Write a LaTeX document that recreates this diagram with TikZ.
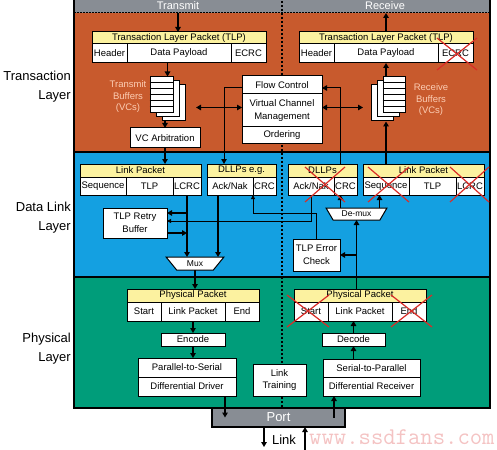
\documentclass[tikz,border=0pt]{standalone}
\usepackage{fontspec}
\setmainfont{Liberation Sans}
\usepackage{tikz}
\usetikzlibrary{positioning,arrows.meta,shapes.geometric}

\definecolor{txorange}{RGB}{200,90,45}
\definecolor{dlblue}{RGB}{20,160,225}
\definecolor{phgreen}{RGB}{0,157,122}
\definecolor{bargray}{RGB}{136,141,148}
\definecolor{pktyellow}{RGB}{252,242,160}
\definecolor{buflabel}{RGB}{252,205,180}
\definecolor{crossred}{RGB}{218,45,40}
\definecolor{markpink}{RGB}{240,175,175}

% centre x, centre y, half width, half height
\newcommand{\redcross}[4]{%
  \draw[redx] (#1-#3,#2-#4) -- (#1+#3,#2+#4) (#1-#3,#2+#4) -- (#1+#3,#2-#4);}

\begin{document}
\begin{tikzpicture}[x=1pt, y=-1pt,
    >={Triangle[length=5pt,width=5.5pt]},
    cellbox/.style={draw=black, line width=1pt, fill=white, inner sep=0pt, outer sep=0pt,
        minimum height=19pt, align=center, font=\fontsize{9.5}{12.5}\selectfont},
    hdrbox/.style={cellbox, fill=pktyellow, minimum height=12pt},
    sheet/.style={draw=black, line width=1pt, fill=white, minimum width=23pt,
        minimum height=36pt, inner sep=0pt},
    muxbox/.style={trapezium, shape border rotate=180, trapezium stretches=true,
        draw=black, line width=1pt, fill=white, inner sep=0pt, outer sep=0pt,
        font=\fontsize{8.5}{10}\selectfont},
    portbox/.style={draw=black, line width=1.5pt, fill=bargray, text=white, inner sep=0pt,
        outer sep=0pt, minimum width=133pt, minimum height=19pt, font=\fontsize{13}{13}\selectfont},
    barlabel/.style={text=white, inner sep=0pt, font=\fontsize{11}{11}\selectfont},
    layerlbl/.style={anchor=east, align=right, inner sep=0pt, font=\fontsize{13}{19}\selectfont},
    buflbl/.style={text=buflabel, align=center, inner sep=0pt, font=\fontsize{9.5}{11.5}\selectfont},
    flow/.style={->, line width=1.6pt},
    ctrl/.style={->, line width=1pt},
    thinflow/.style={->, line width=0.8pt, >={Triangle[length=4pt,width=4pt]}},
    redx/.style={crossred, line width=1.2pt},
    watermark/.style={text=markpink, text opacity=0.75, inner sep=0pt,
        font=\fontsize{24}{24}\selectfont\ttfamily}
    ]
    \useasboundingbox (0,0) rectangle (497,449);

    %Layers
    \fill[bargray] (74,-3) rectangle (490,13);
    \fill[txorange] (74,13) rectangle (490,152);
    \fill[dlblue] (74,152) rectangle (490,277);
    \fill[phgreen] (74,277) rectangle (490,408);
    \draw[line width=1.5pt] (74,-3) rectangle (490,408);
    \draw[line width=1.5pt] (74,152) -- (490,152) (74,277) -- (490,277);
    \draw[line width=1pt, dash pattern=on 2pt off 1pt] (74,13) -- (490,13);
    \draw[line width=1.6pt, dash pattern=on 1.6pt off 2.4pt] (282,-3) -- (282,408);

    \node[barlabel] (txlabel) at (178,6) {Transmit};
    \node[barlabel] (rxlabel) at (385,6) {Receive};
    \coordinate (txbarpt) at (178,13);
    \coordinate (rxbarpt) at (386,13);

    \node[layerlbl] (tllbl) at (71,86.5) {Transaction\\Layer};
    \node[layerlbl] (dllbl) at (71,217.5) {Data Link\\Layer};
    \node[layerlbl] (phlbl) at (71,349) {Physical\\Layer};

    %Transaction layer
    \node[hdrbox, minimum width=174pt, anchor=north west]
        (txtlp) at (92,32) {Transaction Layer Packet (TLP)};
    \node[cellbox, minimum width=35pt, anchor=north west]
        (txhead) at (txtlp.south west) {Header};
    \node[cellbox, minimum width=104pt, right=0pt of txhead] (txdata) {Data Payload};
    \node[cellbox, minimum width=35pt, right=0pt of txdata] (txecrc) {ECRC};

    \node[hdrbox, minimum width=174pt, anchor=north west]
        (rxtlp) at (299,32) {Transaction Layer Packet (TLP)};
    \node[cellbox, minimum width=35pt, anchor=north west]
        (rxhead) at (rxtlp.south west) {Header};
    \node[cellbox, minimum width=104pt, right=0pt of rxhead] (rxdata) {Data Payload};
    \node[cellbox, minimum width=35pt, right=0pt of rxdata] (rxecrc) {ECRC};

    \foreach \k/\nm in {2/txbufc,1/txbufb,0/txbuf}
        \node[sheet] (\nm) at (161.5+6*\k,95+4*\k) {};
    \foreach \s in {1,...,5}
        \draw[line width=0.6pt] ([yshift={-\s*6pt}]txbuf.north west) -- ([yshift={-\s*6pt}]txbuf.north east);
    \foreach \k/\nm in {2/rxbufc,1/rxbufb,0/rxbuf}
        \node[sheet, minimum width=22pt] (\nm) at (394-6*\k,95+4*\k) {};
    \foreach \s in {1,...,5}
        \draw[line width=0.6pt] ([yshift={-\s*6pt}]rxbuf.north west) -- ([yshift={-\s*6pt}]rxbuf.north east);

    \node[buflbl] (txbuflbl) at (128,97) {Transmit\\Buffers\\(VCs)};
    \node[buflbl] (rxbuflbl) at (431,100) {Receive\\Buffers\\(VCs)};

    \node[cellbox, minimum width=70pt, minimum height=20pt] (txarb) at (165,138) {VC Arbitration};

    \node[cellbox, minimum width=80pt, minimum height=18pt] (fc) at (282,85) {Flow Control};
    \node[cellbox, minimum width=80pt, minimum height=33pt, below=0pt of fc]
        (vcm) {Virtual Channel\\Management};
    \node[cellbox, minimum width=80pt, minimum height=17pt, below=0pt of vcm] (order) {Ordering};

    %Data link layer
    \node[hdrbox, minimum width=121pt, minimum height=13pt, anchor=north west]
        (txlp) at (80,164) {Link Packet};
    \node[cellbox, minimum width=46pt, minimum height=18pt, anchor=north west]
        (txseq) at (txlp.south west) {Sequence};
    \node[cellbox, minimum width=47pt, minimum height=18pt, right=0pt of txseq] (txtlpc) {TLP};
    \node[cellbox, minimum width=28pt, minimum height=18pt, right=0pt of txtlpc] (txlcrc) {LCRC};

    \node[hdrbox, minimum width=69pt, minimum height=13pt, anchor=north west]
        (txdllp) at (207,164) {DLLPs e.g.};
    \node[cellbox, minimum width=46pt, minimum height=18pt, anchor=north west]
        (txack) at (txdllp.south west) {Ack/Nak};
    \node[cellbox, minimum width=23pt, minimum height=18pt, right=0pt of txack] (txcrc) {CRC};

    \node[hdrbox, minimum width=69pt, minimum height=13pt, anchor=north west]
        (rxdllp) at (288,164) {DLLPs};
    \node[cellbox, minimum width=46pt, minimum height=18pt, anchor=north west]
        (rxack) at (rxdllp.south west) {Ack/Nak};
    \node[cellbox, minimum width=23pt, minimum height=18pt, right=0pt of rxack] (rxcrc) {CRC};

    \node[hdrbox, minimum width=121pt, minimum height=13pt, anchor=north west]
        (rxlp) at (363,164) {Link Packet};
    \node[cellbox, minimum width=46pt, minimum height=18pt, anchor=north west]
        (rxseq) at (rxlp.south west) {Sequence};
    \node[cellbox, minimum width=47pt, minimum height=18pt, right=0pt of rxseq] (rxtlpc) {TLP};
    \node[cellbox, minimum width=28pt, minimum height=18pt, right=0pt of rxtlpc] (rxlcrc) {LCRC};

    \node[cellbox, minimum width=64pt, minimum height=30pt] (retry) at (135,223) {TLP Retry\\Buffer};
    \node[cellbox, minimum width=47pt, minimum height=32pt] (errchk) at (316.5,255) {TLP Error\\Check};

    \node[muxbox, minimum width=58pt, minimum height=13pt, trapezium angle=52] (mux) at (195,263.5) {Mux};
    \node[muxbox, minimum width=61pt, minimum height=12pt, trapezium angle=53] (demux) at (356.5,214) {De-mux};

    %Physical layer
    \node[hdrbox, minimum width=132pt, minimum height=13pt, anchor=north west]
        (txphys) at (127,289) {Physical Packet};
    \node[cellbox, minimum width=34pt, anchor=north west] (txstart) at (txphys.south west) {Start};
    \node[cellbox, minimum width=64pt, right=0pt of txstart] (txplink) {Link Packet};
    \node[cellbox, minimum width=34pt, right=0pt of txplink] (txend) {End};

    \node[hdrbox, minimum width=132pt, minimum height=13pt, anchor=north west]
        (rxphys) at (294,289) {Physical Packet};
    \node[cellbox, minimum width=34pt, anchor=north west] (rxstart) at (rxphys.south west) {Start};
    \node[cellbox, minimum width=64pt, right=0pt of rxstart] (rxplink) {Link Packet};
    \node[cellbox, minimum width=34pt, right=0pt of rxplink] (rxend) {End};

    \node[cellbox, minimum width=64pt, minimum height=13pt] (encode) at (193,339.5) {Encode};
    \node[cellbox, minimum width=98pt] (p2s) at (187,367.5) {Parallel-to-Serial};
    \node[cellbox, minimum width=98pt, below=0pt of p2s] (driver) {Differential Driver};

    \node[cellbox, minimum width=63pt, minimum height=13pt] (decode) at (353.5,339.5) {Decode};
    \node[cellbox, minimum width=97pt, minimum height=18pt] (s2p) at (371.5,368) {Serial-to-Parallel};
    \node[cellbox, minimum width=97pt, below=0pt of s2p] (receiver) {Differential Receiver};

    \node[cellbox, minimum width=53pt, minimum height=32pt] (training) at (279.5,380) {Link\\Training};

    \node[portbox] (port) at (278.5,417.5) {Port};
    \node[inner sep=0pt, font=\fontsize{13}{13}\selectfont] (linklbl) at (284,440) {Link};
    \coordinate (lnkout) at (264,447);
    \coordinate (lnkin) at (305,451);

    %Lines
    \draw[flow] (txbarpt) -- (txtlp.north -| txbarpt);
    \draw[flow] (rxtlp.north) -- (rxbarpt -| rxtlp.north);
    \draw[flow] (txdata.south -| txbufb) -- (txbuf.north -| txbufb);
    \draw[flow] (txarb.north |- txbufc.south) -- (txarb.north);
    \draw[flow] (txarb.south) -- (txarb.south |- txlp.north);
    \coordinate (txvc) at (196,107.5);
    \coordinate (rxvc) at (363,107.5);
    \draw[flow, <->] (txvc) -- (txvc -| vcm.west);
    \draw[flow, <->] (vcm.east |- rxvc) -- (rxvc);
    \draw[ctrl] ([yshift=-3pt]fc.west) -| ([xshift=17pt]txdllp.north west);
    \draw[ctrl] ([xshift=-17pt]rxdllp.north east) |- ([yshift=-3pt]fc.east);
    \draw[flow] (rxdata.south |- rxbuf.north) -- (rxdata.south);
    \draw[flow] (rxlp.north -| rxdata) -- (rxbufc.south -| rxdata);

    \draw[flow] (txlcrc.south) -- (txlcrc.south |- mux.north);
    \draw[flow] ([xshift=-12pt]txack.south) -- ([xshift=-12pt]txack.south |- mux.north);
    \draw[flow] ([yshift=10pt]retry.east -| txlcrc.south) -- ([yshift=10pt]retry.east);
    \draw[flow] ([yshift=-10pt]retry.east) -- ([yshift=-10pt]retry.east -| txlcrc.south);
    \draw[thinflow] (rxack.south) |- ([yshift=2pt]retry.east);
    \draw[thinflow] (errchk.north) -- ++(0,-26) -| (txack.south east);
    \draw[flow] ([xshift=-16pt]demux.north) -- ([xshift=-16pt]demux.north |- rxcrc.south);
    \draw[flow] ([xshift=23pt]demux.north) -- ([xshift=23pt]demux.north |- rxseq.south);
    \draw[flow] (demux.south |- rxphys.north) -- (demux.south);
    \draw[flow] (demux.south |- errchk.east) -- (errchk.east);

    \draw[flow] (mux.south) -- (mux.south |- txphys.north);
    \draw[flow] (txplink.south) -- (encode.north);
    \draw[flow] (encode.south) -- (encode.south |- p2s.north);
    \draw[flow] (driver.south -| encode.east) -- (port.west -| encode.east);
    \draw[flow] (decode.north) -- (decode.north |- rxplink.south);
    \draw[flow] (s2p.north -| decode) -- (decode.south);
    \draw[flow] ([xshift=11pt]receiver.south west |- port.east) -- ([xshift=11pt]receiver.south west);
    \draw[flow] (port.south -| lnkout) -- (lnkout);
    \draw[flow] (lnkin) -- (port.south -| lnkin);

    %Dropped fields
    \redcross{457}{54}{20}{16}
    \redcross{325}{184.5}{20}{17.5}
    \redcross{388.5}{184.5}{20.5}{17.5}
    \redcross{469.5}{184.5}{19.5}{17.5}
    \redcross{308}{311}{21}{16}
    \redcross{411.5}{311}{20.5}{16}

    \node[watermark, anchor=base west] (mark) at (309,444) {www.ssdfans.com};
\end{tikzpicture}
\end{document}
